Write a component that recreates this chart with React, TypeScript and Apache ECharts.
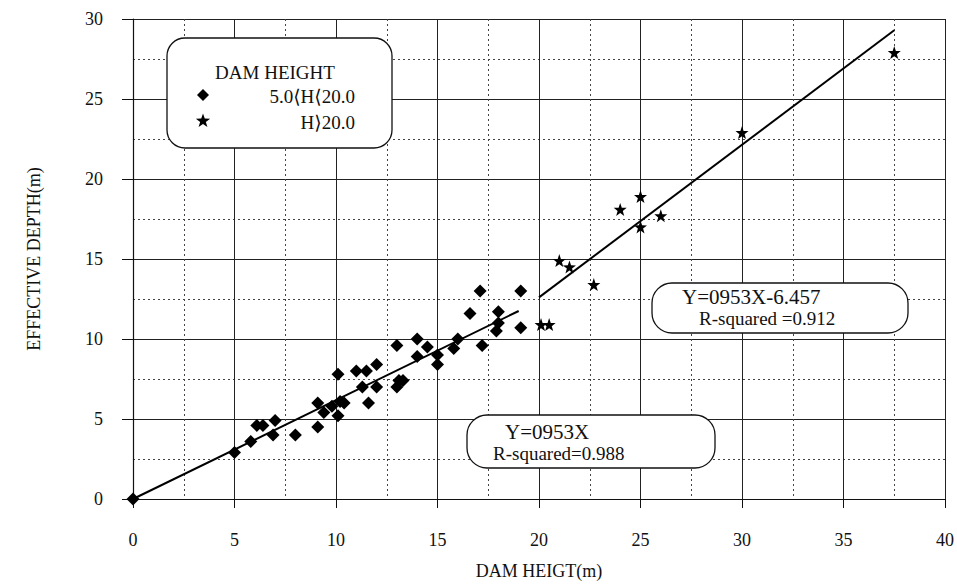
import React, { useEffect, useRef } from "react";
import * as echarts from "echarts";

// ---- data ----
const diamondX = [0, 5.0, 5.8, 6.1, 6.4, 6.9, 7.0, 8.0, 9.1, 9.1, 9.4, 9.8, 10.1, 10.1, 10.2, 10.4, 11.0, 11.5, 11.3, 11.6, 12.0, 12.0, 13.0, 13.0, 13.1, 13.3, 14.0, 14.0, 14.5, 15.0, 15.0, 15.8, 16.0, 16.6, 17.1, 17.2, 18.0, 18.0, 17.9, 19.1, 19.1];
const diamondY = [0, 2.9, 3.6, 4.6, 4.6, 4.0, 4.9, 4.0, 4.5, 6.0, 5.4, 5.8, 5.2, 7.8, 6.1, 6.0, 8.0, 8.0, 7.0, 6.0, 8.4, 7.0, 9.6, 7.0, 7.4, 7.4, 10.0, 8.9, 9.5, 9.0, 8.4, 9.4, 10.0, 11.6, 13.0, 9.6, 11.7, 11.0, 10.5, 13.0, 10.7];
const starX = [20.1, 20.5, 21.0, 21.5, 22.7, 24.0, 25.0, 25.0, 26.0, 30.0, 37.5];
const starY = [10.9, 10.9, 14.9, 14.5, 13.4, 18.1, 18.9, 17.0, 17.7, 22.9, 27.9];
const fitLowX = [0, 19];
const fitLowY = [0, 11.75];
const fitHighX = [20, 37.5];
const fitHighY = [12.6, 29.3];

const xTicks = { min: 0, max: 40, interval: 5 };
const yTicks = { min: 0, max: 30, interval: 5 };

const seriesNames = ["5.0⟨H⟨20.0", "H⟩20.0"];
const legendTitle = "DAM HEIGHT";
const fitLowText = ["Y=0953X", "R-squared=0.988"];
const fitHighText = ["Y=0953X-6.457", "R-squared =0.912"];
const xName = "DAM HEIGT(m)";
const yName = "EFFECTIVE DEPTH(m)";

const FONT = '"Liberation Serif", "DejaVu Serif", serif';
const STAR =
  "path://M0,-10 L2.35,-3.24 L9.51,-3.09 L3.8,1.24 L5.88,8.09 L0,4 L-5.88,8.09 L-3.8,1.24 L-9.51,-3.09 L-2.35,-3.24 Z";

function starPoints(cx: number, cy: number, r: number) {
  const pts: number[][] = [];
  for (let i = 0; i < 10; i++) {
    const rr = i % 2 === 0 ? r : r * 0.4;
    const a = -Math.PI / 2 + (i * Math.PI) / 5;
    pts.push([cx + rr * Math.cos(a), cy + rr * Math.sin(a)]);
  }
  return pts;
}

export default function App() {
  const ref = useRef<HTMLDivElement>(null);
  useEffect(() => {
    document.body.style.margin = "0";
    if (!ref.current) return;
    const chart = echarts.init(ref.current, undefined, { renderer: "svg" });
    const axisCommon = {
      type: "value" as const,
      axisLine: { show: true, lineStyle: { color: "#111", width: 1.2 } },
      splitLine: { show: true, lineStyle: { color: "#222", width: 1 } },
      minorTick: { show: false, splitNumber: 2 },
      minorSplitLine: { show: true, lineStyle: { color: "#444", width: 1, type: [2, 3] } },
      nameTextStyle: { fontFamily: FONT, fontSize: 18, color: "#111" },
    };
    chart.setOption({
      animation: false,
      backgroundColor: "#fff",
      grid: { left: 133, right: 11, top: 19, bottom: 83, containLabel: false },
      xAxis: {
        ...axisCommon,
        ...xTicks,
        name: xName,
        nameLocation: "middle",
        nameGap: 63,
        axisTick: { show: true, length: 9, inside: false, lineStyle: { color: "#111" } },
        axisLabel: { margin: 32, fontFamily: FONT, fontSize: 18, color: "#111" },
      },
      yAxis: {
        ...axisCommon,
        ...yTicks,
        name: yName,
        nameLocation: "middle",
        nameGap: 90,
        axisTick: { show: true, length: 11, inside: false, lineStyle: { color: "#111" } },
        axisLabel: { margin: 30, fontFamily: FONT, fontSize: 18, color: "#111" },
      },
      series: [
        {
          name: seriesNames[0],
          type: "scatter",
          symbol: "diamond",
          symbolSize: 13,
          itemStyle: { color: "#000", opacity: 1 },
          data: diamondX.map((x, i) => [x, diamondY[i]]),
          z: 3,
        },
        {
          name: seriesNames[1],
          type: "scatter",
          symbol: STAR,
          symbolSize: 13,
          itemStyle: { color: "#000", opacity: 1 },
          data: starX.map((x, i) => [x, starY[i]]),
          z: 3,
        },
        {
          type: "line",
          data: fitLowX.map((x, i) => [x, fitLowY[i]]),
          showSymbol: false,
          lineStyle: { color: "#000", width: 2 },
          z: 4,
        },
        {
          type: "line",
          data: fitHighX.map((x, i) => [x, fitHighY[i]]),
          showSymbol: false,
          lineStyle: { color: "#000", width: 2 },
          z: 4,
        },
      ],
      graphic: [
        {
          type: "rect",
          z: 100,
          shape: { x: 167, y: 38, width: 225, height: 110, r: 18 },
          style: { fill: "#fff", stroke: "#111", lineWidth: 1.3 },
        },
        {
          type: "text",
          z: 101,
          style: { text: legendTitle, x: 275, y: 72, font: `19px ${FONT}`, fill: "#111", textAlign: "center", textVerticalAlign: "middle" },
        },
        {
          type: "polygon",
          z: 101,
          shape: { points: [[203, 89], [209, 95], [203, 101], [197, 95]] },
          style: { fill: "#000" },
        },
        {
          type: "text",
          z: 101,
          style: { text: seriesNames[0], x: 355, y: 96, font: `19px ${FONT}`, fill: "#111", textAlign: "right", textVerticalAlign: "middle" },
        },
        {
          type: "polygon",
          z: 101,
          shape: { points: starPoints(203, 121, 7.5) },
          style: { fill: "#000" },
        },
        {
          type: "text",
          z: 101,
          style: { text: seriesNames[1], x: 355, y: 122, font: `19px ${FONT}`, fill: "#111", textAlign: "right", textVerticalAlign: "middle" },
        },
        {
          type: "rect",
          z: 100,
          shape: { x: 467, y: 415, width: 248, height: 53, r: 20 },
          style: { fill: "#fff", stroke: "#111", lineWidth: 1.3 },
        },
        {
          type: "text",
          z: 101,
          style: { text: fitLowText[0], x: 505, y: 432, font: `21px ${FONT}`, fill: "#111", textAlign: "left", textVerticalAlign: "middle" },
        },
        {
          type: "text",
          z: 101,
          style: { text: fitLowText[1], x: 493, y: 453, font: `19px ${FONT}`, fill: "#111", textAlign: "left", textVerticalAlign: "middle" },
        },
        {
          type: "rect",
          z: 100,
          shape: { x: 652, y: 283, width: 256, height: 50, r: 20 },
          style: { fill: "#fff", stroke: "#111", lineWidth: 1.3 },
        },
        {
          type: "text",
          z: 101,
          style: { text: fitHighText[0], x: 682, y: 297, font: `21px ${FONT}`, fill: "#111", textAlign: "left", textVerticalAlign: "middle" },
        },
        {
          type: "text",
          z: 101,
          style: { text: fitHighText[1], x: 699, y: 318, font: `19px ${FONT}`, fill: "#111", textAlign: "left", textVerticalAlign: "middle" },
        },
      ],
    });
    return () => chart.dispose();
  }, []);
  return <div ref={ref} style={{ width: 957, height: 585 }} />;
}
